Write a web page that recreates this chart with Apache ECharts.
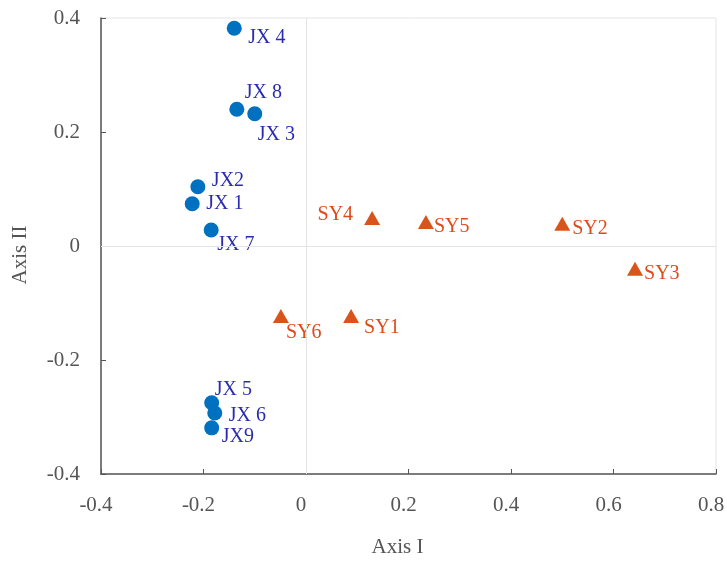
<!DOCTYPE html>
<html><head><meta charset="utf-8">
<script src="https://cdn.jsdelivr.net/npm/echarts@6/dist/echarts.min.js"></script>
<style>html,body{margin:0;padding:0;background:#fff}#c{width:727px;height:561px}</style>
</head><body><div id="c"></div>
<script>
// Data
const jxNames = ["JX 4","JX 8","JX 3","JX2","JX 1","JX 7","JX 5","JX 6","JX9"];
const jxX = [-0.140,-0.135,-0.100,-0.211,-0.222,-0.185,-0.184,-0.178,-0.184];
const jxY = [0.382,0.240,0.232,0.104,0.074,0.028,-0.275,-0.293,-0.319];
const syNames = ["SY4","SY5","SY2","SY3","SY6","SY1"];
const syX = [0.129,0.234,0.500,0.642,-0.049,0.088];
const syY = [0.049,0.042,0.039,-0.040,-0.123,-0.123];
const xTicks = [-0.4,-0.2,0,0.2,0.4,0.6,0.8];
const yTicks = [-0.4,-0.2,0,0.2,0.4];

// Label placement (style, not data)
const jxLabelOffsets = [[14,9],[8,-16],[3,21],[14,-6],[14,0],[6,15],[3,-13],[14,3],[10,9]];
const syLabelOffsets = [[-19,-3],[8,5],[10,5],[9,5],[5,17],[13,12]];
const syLabelAlign = ["right","left","left","left","left","left"];

const font = '"Liberation Serif","DejaVu Serif",serif';
const chart = echarts.init(document.getElementById('c'), null, {renderer:'canvas'});

const jxData = jxNames.map((n,i)=>({name:n, value:[jxX[i],jxY[i]],
  label:{offset:jxLabelOffsets[i], align:'left'}}));
const syData = syNames.map((n,i)=>({name:n, value:[syX[i],syY[i]],
  label:{offset:syLabelOffsets[i], align:syLabelAlign[i]}}));

chart.setOption({
  animation:false,
  backgroundColor:'#fff',
  grid:{left:101,right:11,top:18,bottom:87,show:true,borderColor:'#e4e4e4',borderWidth:1,
    containLabel:false,outerBoundsMode:'none'},
  xAxis:{type:'value',min:xTicks[0],max:xTicks[xTicks.length-1],interval:0.2,
    name:'Axis I',nameLocation:'middle',nameGap:63,
    nameTextStyle:{fontFamily:font,fontSize:21,color:'#555',padding:[0,22,0,0]},
    axisLine:{show:true,onZero:false,lineStyle:{color:'#555',width:1.5}},
    axisTick:{show:true,inside:true,length:5,lineStyle:{color:'#555'}},
    axisLabel:{fontFamily:font,fontSize:21,color:'#555',margin:21,padding:[0,10,0,0]},
    splitLine:{show:false}},
  yAxis:{type:'value',min:yTicks[0],max:yTicks[yTicks.length-1],interval:0.2,
    name:'Axis II',nameLocation:'middle',nameGap:70,nameRotate:90,
    nameTextStyle:{fontFamily:font,fontSize:21,color:'#555',padding:[0,18,0,0]},
    axisLine:{show:true,onZero:false,lineStyle:{color:'#555',width:1.5}},
    axisTick:{show:true,inside:true,length:5,lineStyle:{color:'#555'}},
    axisLabel:{fontFamily:font,fontSize:21,color:'#555',margin:21,padding:[6,0,0,0]},
    splitLine:{show:false}},
  series:[
    {type:'scatter',name:'JX',data:jxData,symbol:'circle',symbolSize:15,
     itemStyle:{color:'#0070C0',opacity:1},
     label:{show:true,position:'inside',verticalAlign:'middle',formatter:'{b}',
       fontFamily:font,fontSize:20,color:'#2B2BB0'},
     markLine:{silent:true,symbol:['none','none'],label:{show:false},
       lineStyle:{color:'#e4e4e4',width:1,type:'solid'},
       data:[{xAxis:0},{yAxis:0}]},
     z:3},
    {type:'scatter',name:'SY',data:syData,symbol:'triangle',symbolSize:[16,14],
     itemStyle:{color:'#D9541A',opacity:1},
     label:{show:true,position:'inside',verticalAlign:'middle',formatter:'{b}',
       fontFamily:font,fontSize:20,color:'#E0491C'},
     z:3}
  ]
});
</script></body></html>
